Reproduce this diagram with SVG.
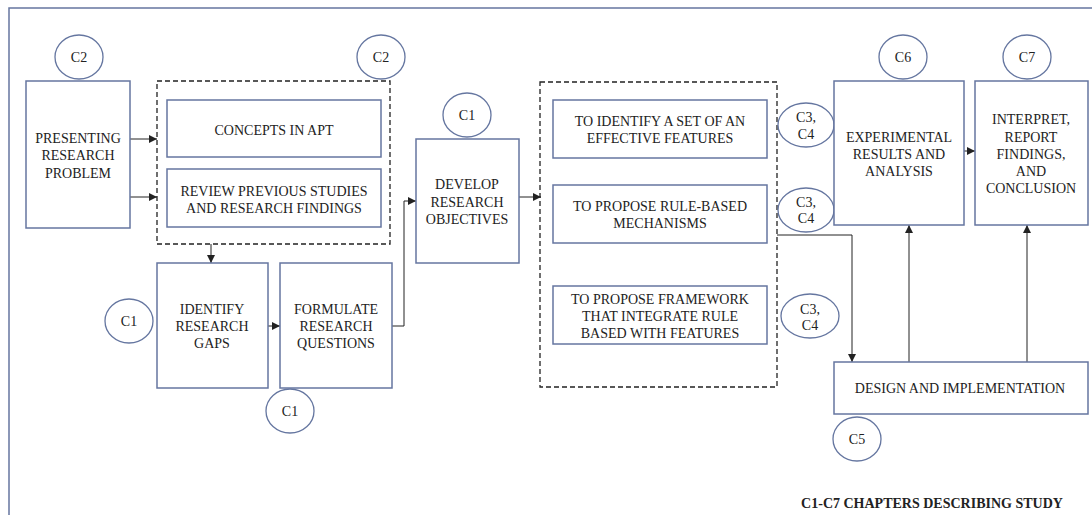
<svg xmlns="http://www.w3.org/2000/svg" width="1092" height="515" viewBox="0 0 1092 515">
<style>
  .box { fill: #ffffff; stroke: #6576a0; stroke-width: 1.5; }
  .dash { fill: none; stroke: #222; stroke-width: 1.3; stroke-dasharray: 5 3; }
  .ov { fill: #ffffff; stroke: #6576a0; stroke-width: 1.3; }
  .t { font-family: "Liberation Serif", "Times New Roman", serif; font-size: 14px; fill: #222; text-anchor: middle; }
  .tb { font-family: "Liberation Serif", "Times New Roman", serif; font-size: 14px; font-weight: bold; fill: #222; text-anchor: middle; }
  .c { fill: none; stroke: #222; stroke-width: 1; }
  .ca { fill: none; stroke: #222; stroke-width: 1; marker-end: url(#ah); }
</style>
<defs>
  <marker id="ah" viewBox="0 0 10 10" refX="10" refY="5" markerWidth="8" markerHeight="8" markerUnits="userSpaceOnUse" orient="auto">
    <path d="M0,0 L10,5 L0,10 z" fill="#222"/>
  </marker>
</defs>
<rect width="1092" height="515" fill="#ffffff"/>
<path d="M9,520 L9,8 L1100,8" fill="none" stroke="#6576a0" stroke-width="1.5"/>

<g id="connectors">
  <line class="ca" x1="130" y1="139" x2="157" y2="139"/>
  <line class="ca" x1="130" y1="197" x2="157" y2="197"/>
  <line class="ca" x1="211" y1="244" x2="211" y2="263"/>
  <line class="ca" x1="268" y1="326" x2="280" y2="326"/>
  <path class="ca" d="M392,326 L404,326 L404,201 L416,201"/>
  <line class="ca" x1="519" y1="197" x2="541" y2="197"/>
  <path class="ca" d="M777,235 L852,235 L852,362"/>
  <line class="ca" x1="964" y1="151" x2="975" y2="151"/>
  <line class="ca" x1="909" y1="362" x2="909" y2="225"/>
  <line class="ca" x1="1027" y1="362" x2="1027" y2="225"/>
</g>

<g id="c2-left"><ellipse class="ov" cx="79" cy="57" rx="24" ry="22"/><text class="t" x="79" y="62">C2</text></g>
<g id="presenting"><rect class="box" x="26" y="81" width="104" height="147"/>
  <text class="t" x="78" y="143">PRESENTING</text><text class="t" x="78" y="160">RESEARCH</text><text class="t" x="78" y="178">PROBLEM</text></g>

<g id="literature">
  <rect class="dash" x="157" y="81" width="233" height="163"/>
</g>
<g id="c2-right"><ellipse class="ov" cx="381" cy="57" rx="24" ry="22"/><text class="t" x="381" y="62">C2</text></g>
<g id="concepts"><rect class="box" x="167" y="100" width="214" height="57"/><text class="t" x="274" y="135">CONCEPTS IN APT</text></g>
<g id="review"><rect class="box" x="167" y="169" width="214" height="58"/>
  <text class="t" x="274" y="196">REVIEW PREVIOUS STUDIES</text><text class="t" x="274" y="213">AND RESEARCH FINDINGS</text></g>

<g id="identify"><rect class="box" x="157" y="263" width="111" height="125"/>
  <text class="t" x="212" y="314">IDENTIFY</text><text class="t" x="212" y="331">RESEARCH</text><text class="t" x="212" y="348">GAPS</text></g>
<g id="c1-gaps"><ellipse class="ov" cx="129" cy="321" rx="24" ry="22"/><text class="t" x="129" y="326">C1</text></g>
<g id="formulate"><rect class="box" x="280" y="263" width="112" height="125"/>
  <text class="t" x="336" y="314">FORMULATE</text><text class="t" x="336" y="331">RESEARCH</text><text class="t" x="336" y="348">QUESTIONS</text></g>
<g id="c1-questions"><ellipse class="ov" cx="290" cy="411" rx="24" ry="22"/><text class="t" x="290" y="416">C1</text></g>

<g id="c1-develop"><ellipse class="ov" cx="467" cy="115" rx="24" ry="22"/><text class="t" x="467" y="120">C1</text></g>
<g id="develop"><rect class="box" x="416" y="139" width="103" height="124"/>
  <text class="t" x="467" y="189">DEVELOP</text><text class="t" x="467" y="207">RESEARCH</text><text class="t" x="467" y="224">OBJECTIVES</text></g>

<g id="objectives"><rect class="dash" x="540" y="82" width="237" height="305"/></g>
<g id="obj1"><rect class="box" x="553" y="100" width="214" height="58"/>
  <text class="t" x="660" y="126">TO IDENTIFY A SET OF AN</text><text class="t" x="660" y="143">EFFECTIVE FEATURES</text></g>
<g id="obj2"><rect class="box" x="553" y="185" width="214" height="58"/>
  <text class="t" x="660" y="211">TO PROPOSE RULE-BASED</text><text class="t" x="660" y="228">MECHANISMS</text></g>
<g id="obj3"><rect class="box" x="553" y="286" width="214" height="58"/>
  <text class="t" x="660" y="304">TO PROPOSE FRAMEWORK</text><text class="t" x="660" y="321">THAT INTEGRATE RULE</text><text class="t" x="660" y="338">BASED WITH FEATURES</text></g>

<g id="c34-a"><ellipse class="ov" cx="806" cy="125" rx="28" ry="22"/><text class="t" x="806" y="122">C3,</text><text class="t" x="806" y="139">C4</text></g>
<g id="c34-b"><ellipse class="ov" cx="806" cy="210" rx="28" ry="22"/><text class="t" x="806" y="207">C3,</text><text class="t" x="806" y="223">C4</text></g>
<g id="c34-c"><ellipse class="ov" cx="810" cy="316" rx="29" ry="22"/><text class="t" x="810" y="314">C3,</text><text class="t" x="810" y="330">C4</text></g>

<g id="c6"><ellipse class="ov" cx="903" cy="57" rx="24" ry="22"/><text class="t" x="903" y="62">C6</text></g>
<g id="experimental"><rect class="box" x="834" y="81" width="130" height="144"/>
  <text class="t" x="899" y="142">EXPERIMENTAL</text><text class="t" x="899" y="159">RESULTS AND</text><text class="t" x="899" y="176">ANALYSIS</text></g>
<g id="c7"><ellipse class="ov" cx="1027" cy="57" rx="24" ry="22"/><text class="t" x="1027" y="62">C7</text></g>
<g id="interpret"><rect class="box" x="975" y="81" width="113" height="144"/>
  <text class="t" x="1031" y="124">INTERPRET,</text><text class="t" x="1031" y="142">REPORT</text><text class="t" x="1031" y="159">FINDINGS,</text><text class="t" x="1031" y="176">AND</text><text class="t" x="1031" y="193">CONCLUSION</text></g>

<g id="design"><rect class="box" x="834" y="362" width="254" height="52"/>
  <text class="t" x="960" y="393">DESIGN AND IMPLEMENTATION</text></g>
<g id="c5"><ellipse class="ov" cx="857" cy="439" rx="24" ry="22"/><text class="t" x="857" y="444">C5</text></g>

<g id="legend"><text class="tb" x="932" y="508">C1-C7 CHAPTERS DESCRIBING STUDY</text></g>
</svg>
